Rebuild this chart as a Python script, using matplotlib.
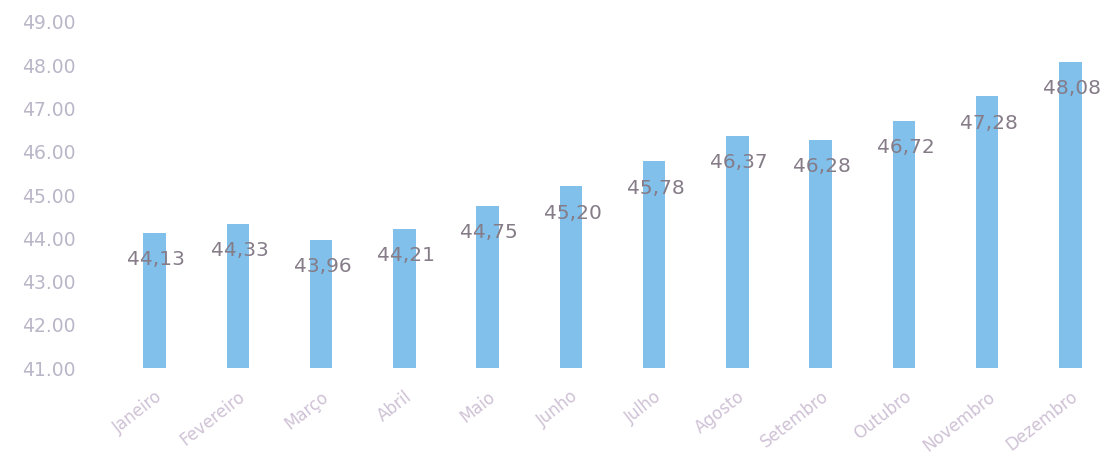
import matplotlib
matplotlib.use("Agg")
import matplotlib.pyplot as plt

months = ["Janeiro", "Fevereiro", "Março", "Abril", "Maio", "Junho", "Julho",
          "Agosto", "Setembro", "Outubro", "Novembro", "Dezembro"]
values = [44.13, 44.33, 43.96, 44.21, 44.75, 45.20, 45.78,
          46.37, 46.28, 46.72, 47.28, 48.08]
yticks = [41, 42, 43, 44, 45, 46, 47, 48, 49]
base = 41.0

fig = plt.figure(figsize=(11.12, 4.61), dpi=100)
ax = fig.add_axes([113/1112, 93/461, 999/1112, 346/461])

x = list(range(len(months)))
heights = [v - base for v in values]
ax.bar(x, heights, bottom=base, width=0.27, color="#80c0ea", edgecolor="none")

for xi, v in zip(x, values):
    ax.text(xi + 0.02, v - 0.62, f"{v:.2f}".replace(".", ","), ha="center", va="center",
            fontsize=14.5, color="#857c88")

ax.set_xlim(-0.5, len(months) - 0.5)
ax.set_ylim(41, 49)
ax.set_yticks(yticks)
ax.set_yticklabels([f"{t:.2f}" for t in yticks], fontsize=13.5, color="#bab6c8")
ax.set_xticks(x)
ax.set_xticklabels(months, rotation=38, ha="right", va="top", rotation_mode="anchor",
                   fontsize=12, color="#cfc2d6")
ax.tick_params(axis="y", length=0, pad=27)
ax.tick_params(axis="x", length=0, pad=14)
for lbl in ax.get_xticklabels():
    lbl.set_x(lbl.get_position()[0])
for s in ax.spines.values():
    s.set_visible(False)

fig.savefig("out.png", dpi=100)
